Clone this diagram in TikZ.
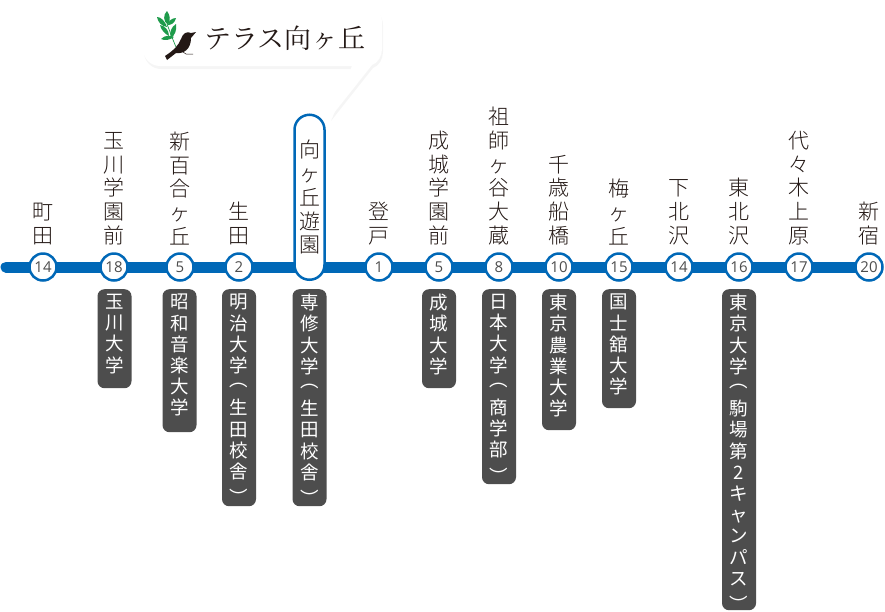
\documentclass[tikz,border=0pt]{standalone}
\usepackage{fontspec}
\setmainfont{Open Sans}
\newfontfamily\jpfont{Noto Sans CJK JP Light}
\newfontfamily\unifont{Noto Sans CJK JP}
\newfontfamily\logofont{Noto Serif CJK JP}
\newfontfamily\numfont{Open Sans}
\usetikzlibrary{positioning,shadows,backgrounds}
\definecolor{routeblue}{HTML}{0068B7}
\definecolor{badgegray}{HTML}{4D4D4D}
\definecolor{inkgray}{HTML}{231815}
\definecolor{leafgreen}{HTML}{1E9B4B}
\newcommand{\paropen}{\raisebox{7pt}{︵}}
\newcommand{\parclose}{\raisebox{-5pt}{︶}}
\newcommand{\unibox}[2]{\parbox[c][#1][t]{34pt}{\centering\vspace*{5pt}#2}}
\tikzset{
	stopnum/.style={circle,on grid,draw=routeblue,fill=white,line width=2.5pt,minimum size=27pt,inner sep=0pt,text=badgegray,font=\numfont\fontsize{15}{15}\selectfont},
	stname/.style={align=center,inner sep=0pt,text=inkgray,font=\jpfont\fontsize{21}{23.8}\selectfont},
	uni/.style={rectangle,rounded corners=7pt,fill=badgegray,text=white,inner sep=0pt,anchor=north,font=\unifont\fontsize{18.5}{21.2}\selectfont},
	pill/.style={rectangle,rounded corners=15pt,draw=routeblue,fill=white,line width=2.5pt,minimum width=30pt,minimum height=165pt,inner sep=0pt,align=center,text=inkgray,font=\jpfont\fontsize{21}{23.8}\selectfont},
	route/.style={routeblue,line width=11pt,line cap=round},
	leaf/.style={fill=leafgreen}
}
\begin{document}
\begin{tikzpicture}[x=1pt,y=1pt]
	\useasboundingbox (0,0) rectangle (885,-611);
	% callout
	\fill[white,drop shadow={opacity=0.08,shadow xshift=1pt,shadow yshift=-3pt}] (143,-22) -- (143,-49) arc[start angle=180,end angle=270,radius=17pt] -- (352,-66) -- (330,-118) -- (372,-65) .. controls (378,-63) and (382,-56) .. (382,-49) -- (382,-22) arc[start angle=0,end angle=90,radius=17pt] -- (160,-5) arc[start angle=90,end angle=180,radius=17pt] -- cycle;
	\node[anchor=west,inner sep=0pt,text=inkgray,font=\logofont\fontsize{27}{27}\selectfont] (logotext) at (204,-38) {テラス向ヶ丘};
	% bird and leaves
	\draw[leafgreen,line width=0.7pt] (167,-24) .. controls (170,-32) and (173,-40) .. (176,-47);
	\fill[leaf] (167,-11) .. controls (163,-15) and (163,-21) .. (168,-25) .. controls (171,-20) and (170,-15) .. (167,-11);
	\fill[leaf] (157,-17) .. controls (161,-17) and (165,-21) .. (167,-27) .. controls (161,-26) and (158,-22) .. (157,-17);
	\fill[leaf] (176,-18) .. controls (172,-18) and (168,-21) .. (168,-25) .. controls (171,-25) and (175,-23) .. (176,-18);
	\fill[leaf] (160,-25) .. controls (161,-30) and (165,-34) .. (169,-36) .. controls (169,-30) and (165,-26) .. (160,-25);
	\fill[leaf] (176,-24) .. controls (171,-27) and (169,-33) .. (171,-38) .. controls (175,-35) and (177,-30) .. (176,-24);
	\fill[leaf] (161,-39) .. controls (165,-35) and (170,-35) .. (174,-37) .. controls (170,-40) and (165,-41) .. (161,-39);
	\fill[inkgray] (196,-32) -- (191,-33) .. controls (187,-31) and (183,-33) .. (181,-39) .. controls (178,-46) and (174,-50) .. (165,-56) -- (167,-60) -- (176,-53) .. controls (184,-54) and (191,-49) .. (191,-38) -- cycle;
	\draw[inkgray,line width=0.5pt] (183,-52) -- (186,-54) -- (193,-54);
	% stops
	\node[stopnum] (s1) at (43,-267) {14};
	\node[stopnum,right=71pt of s1] (s2) {18};
	\node[stopnum,right=66pt of s2] (s3) {5};
	\node[stopnum,right=59pt of s3] (s4) {2};
	\coordinate (c5) at ([xshift=70.5pt]s4);
	\node[stopnum,right=140pt of s4] (s6) {1};
	\node[stopnum,right=60pt of s6] (s7) {5};
	\node[stopnum,right=60pt of s7] (s8) {8};
	\node[stopnum,right=60pt of s8] (s9) {10};
	\node[stopnum,right=60pt of s9] (s10) {15};
	\node[stopnum,right=60pt of s10] (s11) {14};
	\node[stopnum,right=60pt of s11] (s12) {16};
	\node[stopnum,right=60pt of s12] (s13) {17};
	\node[stopnum,right=70pt of s13] (s14) {20};
	\coordinate (lineend) at (6,-267);
	\begin{scope}[on background layer]
	\path[route]
	(lineend) edge (s1.center)
	(s1.center) edge (s2.center)
	(s2.center) edge (s3.center)
	(s3.center) edge (s4.center)
	(s4.center) edge (c5)
	(c5) edge (s6.center)
	(s6.center) edge (s7.center)
	(s7.center) edge (s8.center)
	(s8.center) edge (s9.center)
	(s9.center) edge (s10.center)
	(s10.center) edge (s11.center)
	(s11.center) edge (s12.center)
	(s12.center) edge (s13.center)
	(s13.center) edge (s14.center);
	\end{scope}
	\node[pill,anchor=south] (s5) at ([yshift=-14pt]c5) {向\\ヶ\\丘\\遊\\園};
	% station names
	\node[stname,above=7pt of s1] (n1) {町\\田};
	\node[stname,above=7pt of s2] (n2) {玉\\川\\学\\園\\前};
	\node[stname,above=7pt of s3] (n3) {新\\百\\合\\ヶ\\丘};
	\node[stname,above=7pt of s4] (n4) {生\\田};
	\node[stname,above=7pt of s6] (n6) {登\\戸};
	\node[stname,above=7pt of s7] (n7) {成\\城\\学\\園\\前};
	\node[stname,above=7pt of s8] (n8) {祖\\師\\ヶ\\谷\\大\\蔵};
	\node[stname,above=7pt of s9] (n9) {千\\歳\\船\\橋};
	\node[stname,above=7pt of s10] (n10) {梅\\ヶ\\丘};
	\node[stname,above=7pt of s11] (n11) {下\\北\\沢};
	\node[stname,above=7pt of s12] (n12) {東\\北\\沢};
	\node[stname,above=7pt of s13] (n13) {代\\々\\木\\上\\原};
	\node[stname,above=7pt of s14] (n14) {新\\宿};
	% universities
	\node[uni] (u2) at (114.5,-289) {\unibox{99pt}{玉\\川\\大\\学}};
	\node[uni] (u3) at (179.5,-289) {\unibox{143pt}{昭\\和\\音\\楽\\大\\学}};
	\node[uni] (u4) at (239,-289) {\unibox{217pt}{明\\治\\大\\学\\\paropen\\生\\田\\校\\舎\\\parclose}};
	\node[uni] (u5) at (309.5,-289) {\unibox{217pt}{専\\修\\大\\学\\\paropen\\生\\田\\校\\舎\\\parclose}};
	\node[uni] (u7) at (439,-289) {\unibox{99pt}{成\\城\\大\\学}};
	\node[uni] (u8) at (499,-289) {\unibox{195pt}{日\\本\\大\\学\\\paropen\\商\\学\\部\\\parclose}};
	\node[uni] (u9) at (559,-289) {\unibox{141pt}{東\\京\\農\\業\\大\\学}};
	\node[uni] (u10) at (619,-289) {\unibox{119pt}{国\\士\\舘\\大\\学}};
	\node[uni] (u12) at (739,-289) {\unibox{321pt}{東\\京\\大\\学\\\paropen\\駒\\場\\第\\2\\キ\\ャ\\ン\\パ\\ス\\\parclose}};
\end{tikzpicture}
\end{document}
